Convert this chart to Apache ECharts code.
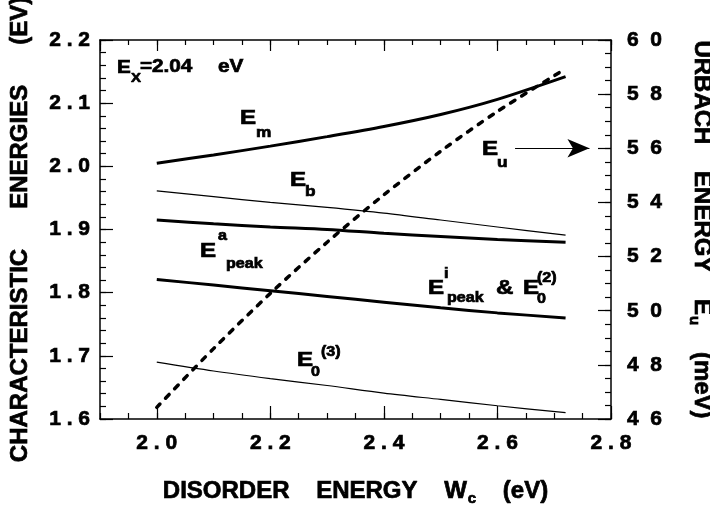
<!DOCTYPE html>
<html>
<head>
<meta charset="utf-8">
<script src="https://cdn.jsdelivr.net/npm/echarts@6/dist/echarts.min.js"></script>
<style>
  html, body { margin: 0; padding: 0; background: #fff; }
  #chart { width: 710px; height: 513px; }
</style>
</head>
<body>
<div id="chart"></div>
<script>
// Disorder energy Wc (eV) sample points
const wc = [2.0, 2.1, 2.2, 2.3, 2.4, 2.5, 2.6, 2.72];
// Characteristic energies (eV), left axis
const Em     = [2.005, 2.018, 2.032, 2.047, 2.063, 2.082, 2.106, 2.142];
const Eb     = [1.961, 1.952, 1.943, 1.935, 1.926, 1.915, 1.904, 1.891];
const EpeakA = [1.915, 1.909, 1.904, 1.900, 1.894, 1.889, 1.884, 1.880];
const EpeakI = [1.821, 1.812, 1.803, 1.794, 1.785, 1.776, 1.768, 1.760];
const E03    = [1.690, 1.676, 1.664, 1.653, 1.641, 1.631, 1.621, 1.610];
// Urbach energy Eu (meV), right axis
const wcU = [2.0, 2.1, 2.2, 2.3, 2.4, 2.5, 2.6, 2.71];
const Eu  = [46.43, 48.60, 50.64, 52.53, 54.28, 55.89, 57.36, 58.81];

const FONT = '"Liberation Sans", Arial, Helvetica, sans-serif';
const BLACK = '#000';
const HEAVY = 0.7;   // outline width that thickens the lettering
const pairs = (xs, ys) => xs.map((x, i) => [x, ys[i]]);
const spaced = (s, sep) => s.split('').join(sep);

function curve(name, ys, width) {
  return {
    name, type: 'line', xAxisIndex: 0, yAxisIndex: 0,
    data: pairs(wc, ys), showSymbol: false, smooth: 0.3, silent: true,
    lineStyle: { color: BLACK, width }
  };
}

// annotation text, slightly widened like the original lettering
function txt(x, y, text, size) {
  return {
    type: 'text', x, y, scaleX: 1.15, silent: true,
    style: { text, fill: BLACK, stroke: BLACK, lineWidth: HEAVY,
             fontSize: size, fontWeight: 'bold', fontFamily: FONT,
             align: 'left', verticalAlign: 'middle' }
  };
}

const labelFont = {
  color: BLACK, fontSize: 21, fontWeight: 'bold', fontFamily: FONT,
  textBorderColor: BLACK, textBorderWidth: HEAVY
};
const titleRich = {
  t: { fontSize: 24, fontWeight: 'bold', fontFamily: FONT, color: BLACK,
       textBorderColor: BLACK, textBorderWidth: HEAVY },
  s: { fontSize: 15, fontWeight: 'bold', fontFamily: FONT, color: BLACK,
       textBorderColor: BLACK, textBorderWidth: HEAVY, padding: [14, 0, 0, 1] }
};

// frame line / tick styles (negative tick length points the ticks into the plot)
const frame = () => ({ show: true, onZero: false, lineStyle: { color: BLACK, width: 1.5 } });
const ticks = len => ({ show: true, length: -len, lineStyle: { color: BLACK, width: 1.2 } });
const noLine = { show: false, onZero: false };
const off = { show: false };

// axis that only contributes short (minor) ticks
function minorX(position, interval, len) {
  return { type: 'value', position, offset: 0, min: 1.9, max: 2.8, interval,
           axisLine: noLine, axisTick: ticks(len), axisLabel: off, splitLine: off };
}
function minorY(position, min, max, interval, len) {
  return { type: 'value', position, offset: 0, min, max, interval,
           axisLine: noLine, axisTick: ticks(len), axisLabel: off, splitLine: off };
}

const chart = echarts.init(document.getElementById('chart'), null, { renderer: 'canvas' });

const option = {
  animation: false,
  backgroundColor: '#fff',
  grid: { left: 100, top: 40, right: 99, bottom: 94, outerBoundsMode: 'none', containLabel: false },
  xAxis: [
    {
      type: 'value', position: 'bottom', offset: 0, min: 1.9, max: 2.8, splitNumber: 5,
      axisLine: frame(), axisTick: ticks(13),
      axisLabel: Object.assign({
        showMinLabel: false,
        formatter: v => (v < 1.95 ? '' : spaced(v.toFixed(1), ' ')), margin: 14
      }, labelFont),
      splitLine: off,
      name: '{t|DISORDER    ENERGY    W}{s|c}{t|    (eV)}',
      nameLocation: 'middle', nameGap: 58,
      nameTextStyle: { rich: titleRich }
    },
    {
      type: 'value', position: 'top', offset: 0, min: 1.9, max: 2.8, splitNumber: 5,
      axisLine: frame(), axisTick: ticks(11), axisLabel: off, splitLine: off
    },
    minorX('bottom', 0.05, 6),
    minorX('top', 0.05, 5)
  ],
  yAxis: [
    {
      type: 'value', position: 'left', offset: 0, min: 1.6, max: 2.2, interval: 0.1,
      axisLine: frame(), axisTick: ticks(13),
      axisLabel: Object.assign({ formatter: v => spaced(v.toFixed(1), ' '), margin: 10 }, labelFont),
      splitLine: off,
      name: 'CHARACTERISTIC      ENERGIES      (EV)',
      nameLocation: 'middle', nameGap: 68,
      nameTextStyle: { fontSize: 24, fontWeight: 'bold', fontFamily: FONT, color: BLACK,
                       textBorderColor: BLACK, textBorderWidth: HEAVY }
    },
    {
      type: 'value', position: 'right', offset: 0, min: 46, max: 60, interval: 2,
      axisLine: frame(), axisTick: ticks(13),
      axisLabel: Object.assign({
        formatter: v => spaced(String(v), '  '), margin: 16, padding: [10, 0, 0, 0]
      }, labelFont),
      splitLine: off,
      name: '{t|URBACH    ENERGY    E}{s|u}{t|    (meV)}',
      nameLocation: 'middle', nameGap: 76, nameRotate: -90,
      nameTextStyle: { rich: titleRich }
    },
    minorY('left', 1.6, 2.2, 0.02, 6),
    minorY('right', 46, 60, 0.5, 6)
  ],
  series: [
    curve('Em', Em, 3),
    curve('Eb', Eb, 1.2),
    curve('Epeak a', EpeakA, 3),
    curve('Epeak i & E0(2)', EpeakI, 3),
    curve('E0(3)', E03, 1.2),
    {
      name: 'Eu', type: 'line', xAxisIndex: 0, yAxisIndex: 1,
      data: pairs(wcU, Eu), showSymbol: false, smooth: 0.3, silent: true,
      lineStyle: { color: BLACK, width: 3.5, type: [5, 8], cap: 'round' },
      markLine: {
        silent: true, symbol: ['none', 'arrow'], symbolSize: [14, 22],
        label: { show: false },
        lineStyle: { color: BLACK, width: 1.2, type: 'solid' },
        data: [[{ coord: [2.631, 56] }, { coord: [2.762, 56] }]]
      }
    }
  ],
  graphic: [
    txt(117, 68, 'E', 18), txt(131, 78, 'X', 13), txt(140, 67, '=2.04', 18), txt(218, 67, 'eV', 18),
    txt(240, 118, 'E', 21), txt(256, 133, 'm', 15),
    txt(290, 180, 'E', 21), txt(305, 192, 'b', 15),
    txt(200, 251, 'E', 21), txt(218, 236, 'a', 14), txt(226, 264, 'peak', 14),
    txt(428, 288, 'E', 21), txt(444, 274, 'i', 14), txt(447, 298, 'peak', 14),
    txt(496, 288, '&', 21), txt(523, 288, 'E', 21), txt(537, 299, '0', 14), txt(537, 278, '(2)', 14),
    txt(297, 360, 'E', 21), txt(311, 372, '0', 14), txt(321, 352, '(3)', 14),
    txt(482, 149, 'E', 21), txt(497, 163, 'u', 15)
  ]
};

chart.setOption(option);
</script>
</body>
</html>
